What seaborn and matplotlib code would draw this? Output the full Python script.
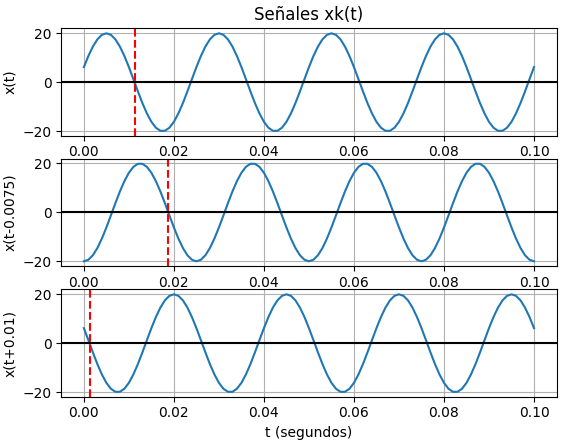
import numpy as np
import pandas as pd
import seaborn as sns
import matplotlib.pyplot as plt

# signal parameters
amplitude = 20
freq = 40            # Hz, period 0.025 s
t_peak = 0.005       # first peak of x(t)
fs = 1000            # samples per second
t_end = 0.1
shifts = [0.0, -0.0075, 0.01]          # x(t + shift)
ylabels = ["x(t)", "x(t-0.0075)", "x(t+0.01)"]
marks = [0.01125, 0.01875, 0.00125]    # red dashed lines (zero crossing)

t = np.linspace(0, t_end, int(fs * t_end) + 1)

fig, axes = plt.subplots(3, 1, figsize=(5.63, 4.44), dpi=100)
fig.subplots_adjust(left=0.109, right=0.9885, top=0.936, bottom=0.1066, hspace=0.217)

for ax, s, lab, m in zip(axes, shifts, ylabels, marks):
    df = pd.DataFrame({"t": t, "x": amplitude * np.cos(2 * np.pi * freq * (t + s - t_peak))})
    sns.lineplot(data=df, x="t", y="x", ax=ax, color="#1f77b4", linewidth=1.5)
    ax.axhline(0, color="black", linewidth=1.5)
    ax.axvline(m, color="red", linestyle="--", linewidth=1.5)
    ax.grid(True, color="#b0b0b0", linewidth=0.8)
    ax.set_ylabel(lab)
    ax.set_xlabel("")
    ax.set_yticks([-20, 0, 20])
    ax.set_xticks(np.arange(0, 0.101, 0.02))

axes[0].set_title("Señales xk(t)")
axes[-1].set_xlabel("t (segundos)")

plt.savefig("out.png", dpi=100)
